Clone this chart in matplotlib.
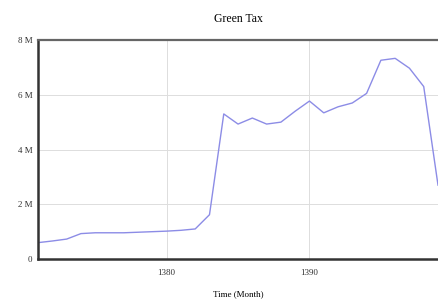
import matplotlib
matplotlib.use('Agg')
import matplotlib.pyplot as plt
from matplotlib.ticker import FuncFormatter

# monthly values (millions)
months = list(range(1371, 1400))
green_tax = [0.60, 0.66, 0.73, 0.93, 0.96, 0.96, 0.96, 0.98, 1.00, 1.02,
             1.05, 1.10, 1.62, 5.30, 4.93, 5.15, 4.93, 5.00, 5.40, 5.77,
             5.34, 5.56, 5.70, 6.05, 7.26, 7.33, 6.97, 6.30, 2.70]
y_ticks = [0, 2e6, 4e6, 6e6, 8e6]
x_ticks = [1380, 1390]

plt.rcParams['font.family'] = ['Liberation Serif', 'DejaVu Serif']

fig = plt.figure(figsize=(4.38, 3.03), dpi=100)
ax = fig.add_axes([0.087, 0.145, 0.913, 0.723])

ax.plot(months, [v * 1e6 for v in green_tax], color='#8c8ce6', lw=1.0)

ax.set_xlim(1371, 1399)
ax.set_ylim(0, 8e6)
ax.set_xticks(x_ticks)
ax.set_yticks(y_ticks)
ax.yaxis.set_major_formatter(FuncFormatter(
    lambda v, p: '0' if v == 0 else f'{v / 1e6:.0f} M'))
ax.tick_params(length=0, labelsize=6.5, colors='#333333')
ax.tick_params(axis='x', pad=7)
ax.tick_params(axis='y', pad=4)
ax.grid(True, color='#dddddd', lw=0.7)

for side in ('left', 'bottom'):
    ax.spines[side].set_linewidth(1.8)
    ax.spines[side].set_color('#333333')
ax.spines['top'].set_linewidth(1.6)
ax.spines['top'].set_color('#666666')
ax.spines['right'].set_visible(False)

ax.set_title('Green Tax', fontsize=8.5, pad=13)
ax.set_xlabel('Time (Month)', fontsize=6.5, labelpad=10)

fig.savefig('out.png', dpi=100)
